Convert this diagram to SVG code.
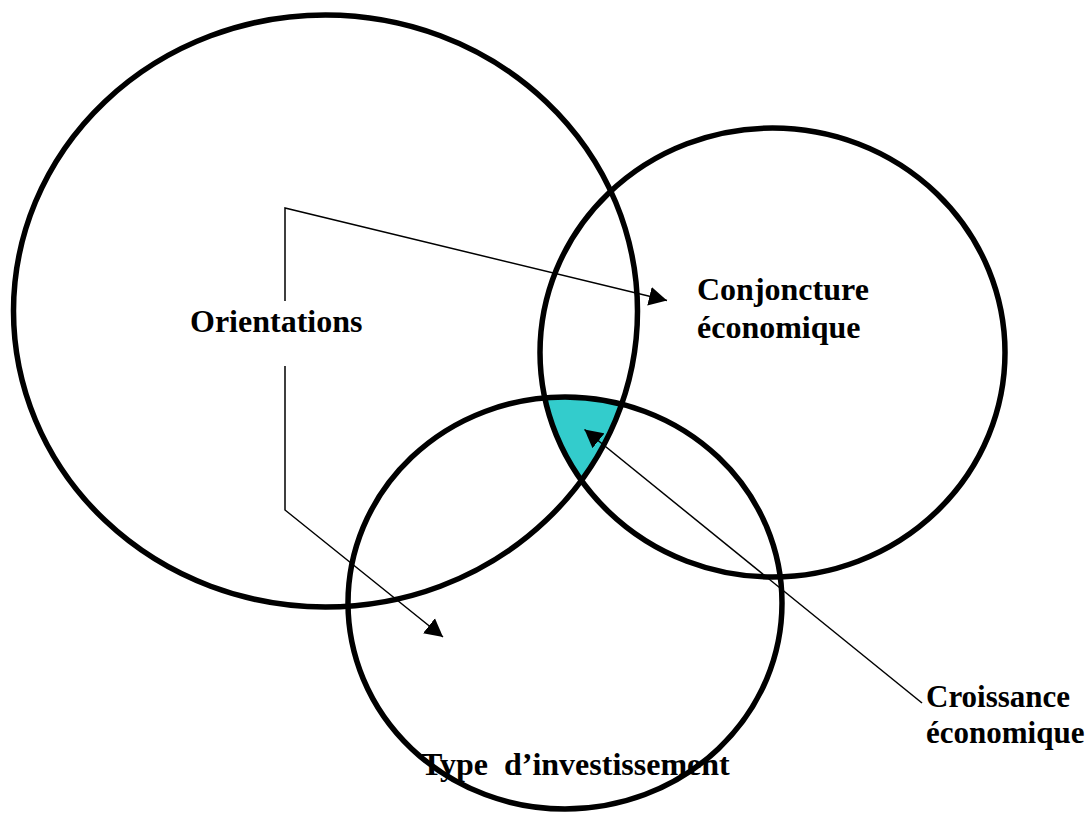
<svg xmlns="http://www.w3.org/2000/svg" width="1089" height="815" viewBox="0 0 1089 815">
  <style>
    .ring { fill: none; stroke: #000; stroke-width: 5.5; }
    .conn { fill: none; stroke: #000; stroke-width: 1.5; }
    .lbl { font-family: "Liberation Serif", "Times New Roman", serif; font-weight: bold; font-size: 32px; fill: #000; white-space: pre; }
    .sm { font-size: 31px; }
  </style>
  <defs>
    <marker id="arrow" markerUnits="userSpaceOnUse" markerWidth="20" markerHeight="20" refX="18" refY="10" orient="auto" viewBox="0 0 20 20">
      <path d="M0,0.5 L18,10 L0,19.5 z" fill="#000"/>
    </marker>
    <clipPath id="clip1">
      <ellipse cx="325.5" cy="311" rx="312" ry="296"/>
    </clipPath>
    <clipPath id="clip2">
      <ellipse cx="772.5" cy="352.5" rx="232.5" ry="224.5"/>
    </clipPath>
  </defs>
  <rect width="1089" height="815" fill="#fff"/>

  <g id="intersection">
    <g clip-path="url(#clip1)">
      <g clip-path="url(#clip2)">
        <ellipse cx="565" cy="603" rx="217" ry="206" fill="#33CCCC"/>
      </g>
    </g>
  </g>

  <g id="orientations">
    <ellipse class="ring" cx="325.5" cy="311" rx="312" ry="296"/>
    <text class="lbl" x="190" y="332">Orientations</text>
  </g>

  <g id="conjoncture">
    <ellipse class="ring" cx="772.5" cy="352.5" rx="232.5" ry="224.5"/>
    <text class="lbl" x="697" y="300">Conjoncture</text>
    <text class="lbl" x="697" y="338">économique</text>
  </g>

  <g id="investissement">
    <ellipse class="ring" cx="565" cy="603" rx="217" ry="206"/>
    <text class="lbl" x="421" y="775">Type  d’investissement</text>
  </g>

  <g id="croissance">
    <text class="lbl sm" x="926" y="707">Croissance</text>
    <text class="lbl sm" x="926" y="743">économique</text>
  </g>

  <g id="connectors">
    <polyline class="conn" points="285,301 285,208 667,300.5" marker-end="url(#arrow)"/>
    <polyline class="conn" points="285,366 285,510 443,637" marker-end="url(#arrow)"/>
    <line class="conn" x1="922" y1="703" x2="584.5" y2="429.5" marker-end="url(#arrow)"/>
  </g>
</svg>
